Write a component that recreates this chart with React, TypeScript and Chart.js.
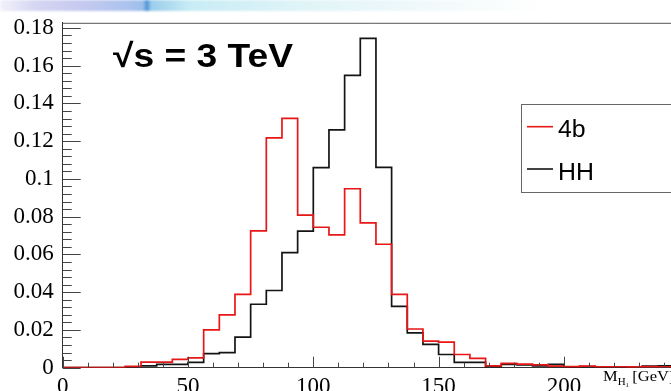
import { useEffect, useRef } from "react";
import { Chart, registerables } from "chart.js";

Chart.register(...registerables);

// Histogram binning of M_H1 (GeV): 40 bins of 6.25 GeV from 0 to 250
const xMin = 0;
const xMax = 250;
const binWidth = 6.25;
const yMax = 0.1827;
const yStep = 0.02;
const xStep = 50;

const seriesNames = ["4b", "HH"];
const seriesColors = ["rgb(232,22,22)", "#141414"];

// normalised entries per bin
const values4b = [
  0, 0, 0, 0, 0.0007, 0.003, 0.003, 0.0044, 0.0052, 0.02,
  0.028, 0.0388, 0.0725, 0.1217, 0.1321, 0.0808, 0.0744, 0.0704, 0.0948, 0.0767,
  0.0654, 0.0388, 0.0205, 0.0141, 0.0136, 0.007, 0.0049, 0.001, 0.0023, 0.0019,
  0.0015, 0.0008, 0.0006, 0.0008, 0.0005, 0.0005, 0.0004, 0.0006, 0.0005, 0.0004,
];
const valuesHH = [
  0, 0, 0, 0, 0.0005, 0.001, 0.0018, 0.0018, 0.0028, 0.0075,
  0.008, 0.0162, 0.0336, 0.0409, 0.061, 0.0723, 0.106, 0.126, 0.1549, 0.1744,
  0.1061, 0.0325, 0.0185, 0.0124, 0.007, 0.0028, 0.0028, 0.0005, 0.0018, 0.0015,
  0.001, 0.0018, 0.0003, 0.0006, 0.0004, 0.0004, 0.0005, 0.0009, 0.001, 0.0004,
];

const energyLabel = "\u221As = 3 TeV";

// step outline: one point per low edge, plus the upper edge of the last bin
function toSteps(vals: number[]) {
  const pts = vals.map((v, i) => ({ x: xMin + i * binWidth, y: v }));
  pts.push({ x: xMax, y: vals[vals.length - 1] });
  return pts;
}

// ROOT-like frame: ticks pointing into the pad, top frame line, text and legend
const rootStyle = {
  id: "rootStyle",
  afterDraw(chart: any) {
    const { ctx, chartArea } = chart;
    const xs = chart.scales.x;
    const ys = chart.scales.y;
    ctx.save();

    // top frame line
    ctx.strokeStyle = "#555";
    ctx.lineWidth = 1;
    ctx.beginPath();
    ctx.moveTo(chartArea.left, chartArea.top + 0.5);
    ctx.lineTo(chartArea.right, chartArea.top + 0.5);
    ctx.stroke();

    // y ticks (major every 0.02, 4 minors between)
    ctx.strokeStyle = "#444";
    ctx.beginPath();
    const yMinor = yStep / 5;
    for (let k = 0; k * yMinor <= yMax + 1e-9; k++) {
      const py = Math.round(ys.getPixelForValue(k * yMinor)) + 0.5;
      const len = k % 5 === 0 ? 18 : 9;
      ctx.moveTo(chartArea.left, py);
      ctx.lineTo(chartArea.left + len, py);
    }
    // x ticks (major every 50, minor every 10)
    const xMinor = xStep / 5;
    for (let k = 0; k * xMinor <= xMax + 1e-9; k++) {
      const px = Math.round(xs.getPixelForValue(k * xMinor)) + 0.5;
      const len = k % 5 === 0 ? 11 : 5;
      ctx.moveTo(px, chartArea.bottom);
      ctx.lineTo(px, chartArea.bottom - len);
    }
    ctx.stroke();

    // centre-of-mass energy label
    ctx.fillStyle = "#000";
    ctx.font = "bold 33px 'Liberation Sans', Arial, sans-serif";
    ctx.textBaseline = "alphabetic";
    const w = ctx.measureText(energyLabel).width;
    ctx.save();
    ctx.translate(113, 67);
    ctx.scale(180 / w, 1);
    ctx.fillText(energyLabel, 0, 0);
    ctx.restore();

    // legend box
    const lx = 521.5;
    const ly = 104.5;
    ctx.fillStyle = "#fff";
    ctx.fillRect(lx, ly, 200, 88);
    ctx.strokeStyle = "#666";
    ctx.lineWidth = 1;
    ctx.strokeRect(lx, ly, 200, 88);
    const rows = [126.7, 169];
    chart.data.datasets.forEach((ds: any, i: number) => {
      const cy = rows[i];
      ctx.strokeStyle = ds.borderColor;
      ctx.lineWidth = 1.6;
      ctx.beginPath();
      ctx.moveTo(527, cy);
      ctx.lineTo(553, cy);
      ctx.stroke();
      ctx.fillStyle = "#000";
      ctx.font = "23px 'Liberation Sans', Arial, sans-serif";
      ctx.save();
      ctx.translate(558, cy + 10.5);
      ctx.scale(1.08, 1);
      ctx.fillText(ds.label, 0, 0);
      ctx.restore();
    });

    // x-axis title, right aligned under the axis
    ctx.fillStyle = "#000";
    ctx.save();
    ctx.translate(603, 381);
    ctx.scale(1.1, 1);
    ctx.font = "15px 'Liberation Serif', 'Times New Roman', serif";
    ctx.fillText("M", 0, 0);
    let cx = ctx.measureText("M").width;
    ctx.font = "10px 'Liberation Serif', 'Times New Roman', serif";
    ctx.fillText("H", cx, 4);
    cx += ctx.measureText("H").width;
    ctx.font = "6px 'Liberation Serif', 'Times New Roman', serif";
    ctx.fillText("1", cx, 6);
    cx += ctx.measureText("1").width + 3;
    ctx.font = "15px 'Liberation Serif', 'Times New Roman', serif";
    ctx.fillText("[GeV]", cx, 0);
    ctx.restore();

    ctx.restore();
  },
};

export default function App() {
  const canvasRef = useRef<HTMLCanvasElement | null>(null);

  useEffect(() => {
    const canvas = canvasRef.current;
    if (!canvas) return;
    const tickFont = { family: "'Liberation Serif', 'Times New Roman', serif", size: 23 };
    const chart = new Chart(canvas, {
      type: "line",
      data: {
        datasets: [
          {
            label: seriesNames[0],
            data: toSteps(values4b),
            borderColor: seriesColors[0],
            borderWidth: 1.7,
            stepped: true,
            pointRadius: 0,
            fill: false,
          },
          {
            label: seriesNames[1],
            data: toSteps(valuesHH),
            borderColor: seriesColors[1],
            borderWidth: 1.7,
            stepped: true,
            pointRadius: 0,
            fill: false,
          },
        ],
      },
      options: {
        responsive: false,
        animation: false,
        events: [],
        layout: { padding: { top: 16.7, right: 40.8, left: 0, bottom: 0 } },
        plugins: {
          legend: { display: false },
          tooltip: { enabled: false },
          title: { display: false },
        },
        scales: {
          x: {
            type: "linear",
            min: xMin,
            max: xMax,
            grid: { display: false, drawTicks: false },
            border: { display: true, color: "#333", width: 1 },
            ticks: {
              stepSize: xStep,
              color: "#000",
              font: tickFont,
              padding: 5,
              maxRotation: 0,
              autoSkip: false,
            },
            afterFit: (s: any) => {
              s.height = 32.3;
            },
          },
          y: {
            type: "linear",
            min: 0,
            max: yMax,
            grid: { display: false, drawTicks: false },
            border: { display: true, color: "#333", width: 1 },
            ticks: {
              stepSize: yStep,
              includeBounds: false,
              color: "#000",
              font: tickFont,
              padding: 9,
              autoSkip: false,
              callback: (v: any) => String(Number(Number(v).toFixed(3))),
            },
            afterFit: (s: any) => {
              s.width = 62.7;
            },
          },
        },
      },
      plugins: [rootStyle],
    });
    return () => chart.destroy();
  }, []);

  return (
    <div
      style={{
        position: "fixed",
        left: 0,
        top: 0,
        width: 671,
        height: 391,
        overflow: "hidden",
        background: "#fff",
      }}
    >
      <div
        style={{
          position: "absolute",
          left: 0,
          top: 0,
          width: 671,
          height: 11,
          filter: "blur(1px)",
          background:
            "linear-gradient(to right, #f2f2fb 0px, #d6d6f2 35px, #c6caf0 80px, #adc4ee 125px, #9dbfec 143px, #4a90d4 147px, #9bcdeb 151px, #c8ecf5 190px, #dff4f8 300px, #f0f9fb 420px, #ffffff 540px)",
        }}
      />
      <canvas
        ref={canvasRef}
        width={730}
        height={400}
        style={{ position: "absolute", left: 0, top: 0 }}
      />
    </div>
  );
}
